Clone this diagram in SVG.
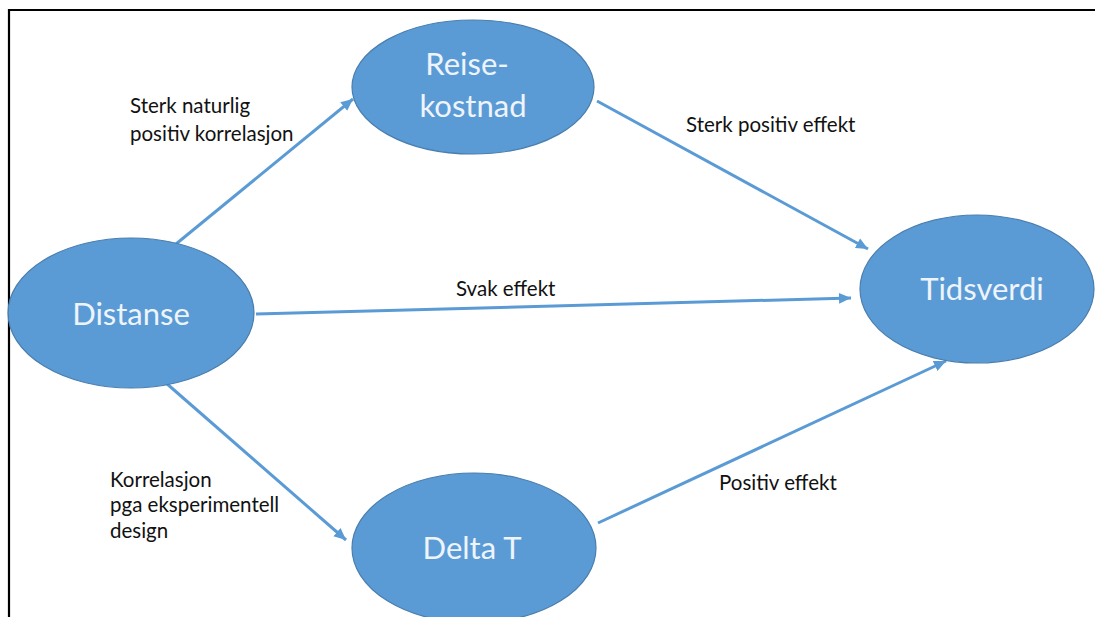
<svg xmlns="http://www.w3.org/2000/svg" width="1097" height="617" viewBox="0 0 1097 617">
<style>
.node{fill:#5b9bd5;stroke:#4a7eae;stroke-width:1.2}
.nl{font-family:Lato,"Open Sans",sans-serif;font-size:31px;fill:#eef4fb;text-anchor:middle}
.el{font-family:Lato,"Open Sans",sans-serif;font-size:20.5px;fill:#111}
.c{stroke:#5b9bd5;stroke-width:3;fill:none;marker-end:url(#ah)}
</style>
<defs>
<marker id="ah" markerUnits="userSpaceOnUse" viewBox="0 0 12 12" refX="12" refY="6" markerWidth="12" markerHeight="12" orient="auto">
<path d="M0,0.5 L12,6 L0,11.5 z" fill="#5b9bd5"/>
</marker>
</defs>
<rect width="1097" height="617" fill="#fff"/>
<path d="M9,617 V10 H1095" fill="none" stroke="#000" stroke-width="2.2"/>
<g id="connectors">
<line class="c" x1="176" y1="244" x2="353" y2="99"/>
<line class="c" x1="597" y1="101" x2="868" y2="249"/>
<line class="c" x1="256" y1="314" x2="851" y2="298"/>
<line class="c" x1="166" y1="383" x2="346" y2="540"/>
<line class="c" x1="598" y1="523" x2="946" y2="361"/>
<text class="el" x="130" y="113">Sterk naturlig</text>
<text class="el" x="130" y="141">positiv korrelasjon</text>
<text class="el" x="686" y="132">Sterk positiv effekt</text>
<text class="el" x="456" y="296">Svak effekt</text>
<text class="el" x="110" y="487">Korrelasjon</text>
<text class="el" x="110" y="512">pga eksperimentell</text>
<text class="el" x="110" y="538">design</text>
<text class="el" x="719" y="490">Positiv effekt</text>
</g>
<g id="node-distanse">
<ellipse class="node" cx="131" cy="313" rx="123" ry="75"/>
<text class="nl" x="131" y="325">Distanse</text>
</g>
<g id="node-reisekostnad">
<ellipse class="node" cx="473" cy="87" rx="121" ry="67"/>
<text class="nl" x="467" y="75">Reise-</text>
<text class="nl" x="473" y="117">kostnad</text>
</g>
<g id="node-tidsverdi">
<ellipse class="node" cx="977" cy="289" rx="117" ry="74"/>
<text class="nl" x="982" y="300">Tidsverdi</text>
</g>
<g id="node-deltat">
<ellipse class="node" cx="474" cy="548" rx="122" ry="75"/>
<text class="nl" x="472" y="559">Delta T</text>
</g>
</svg>
